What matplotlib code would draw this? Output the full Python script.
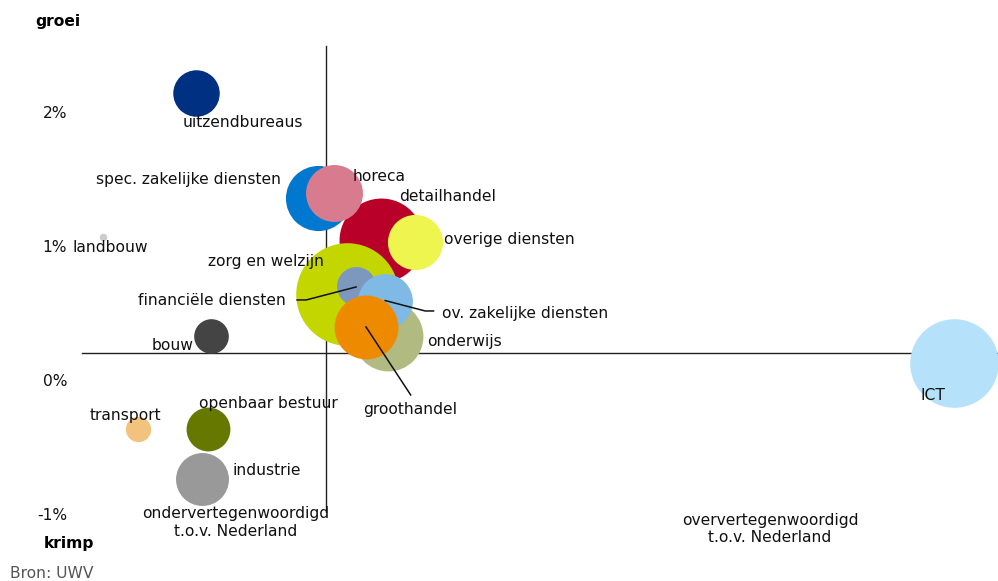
import matplotlib.pyplot as plt
import numpy as np

# sectors in drawing order (later ones on top)
SECTORS = [
    "ICT", "landbouw", "uitzendbureaus", "bouw", "transport", "openbaar bestuur",
    "industrie", "detailhandel", "overige diensten", "spec. zakelijke diensten",
    "horeca", "zorg en welzijn", "onderwijs", "financiële diensten",
    "ov. zakelijke diensten", "groothandel",
]
# location quotient vs Nederland (x) and employment growth in % (y)
LQ = [2.571, 0.443, 0.674, 0.713, 0.531, 0.705, 0.689, 1.138, 1.222, 0.981,
      1.020, 1.053, 1.155, 1.074, 1.148, 1.100]
GROEI = [0.136, 1.081, 2.150, 0.341, -0.351, -0.354, -0.725, 1.056, 1.043, 1.366,
         1.410, 0.655, 0.343, 0.713, 0.604, 0.407]
# bubble size (employment, relative)
BANEN = [196, 1.4, 54, 30, 16, 48, 70, 176, 76, 106, 81, 263, 122, 38, 75, 102]
COLORS = ["#b5e1fa", "#cccccc", "#003082", "#444444", "#f2c27f", "#667800",
          "#999999", "#b80028", "#eef54f", "#0078cf", "#d97b8e", "#c3d600",
          "#b1ba80", "#7d98bf", "#7fbae6", "#ee8a00"]

NL_GROEI = 0.21
NL_LQ = 1.0
Y_TICKS = [2, 1, 0, -1]

W, H = 998, 581
XLIM = (1 - 326 / 400, 1 + 672 / 400)
YLIM = ((381.5 - H) / 134, 381.5 / 134)
PX_X = (XLIM[1] - XLIM[0]) / W
PX_Y = (YLIM[1] - YLIM[0]) / H
FS = 11.2

# label offsets from bubble centre in pixels (dx right, dy down), alignment
LABELS = {
    "uitzendbureaus": (-13, 29.4, "left"),
    "spec. zakelijke diensten": (-37.5, -18.5, "right"),
    "horeca": (19, -16.5, "left"),
    "detailhandel": (18.3, -43.3, "left"),
    "overige diensten": (29.2, -2.4, "left"),
    "zorg en welzijn": (-22.7, -32, "right"),
    "financiële diensten": (-69.5, 15, "right"),
    "ov. zakelijke diensten": (56.7, 12.7, "left"),
    "onderwijs": (39, 6.2, "left"),
    "groothandel": (44, 82.3, "center"),
    "bouw": (-18, 9.2, "right"),
    "landbouw": (-30.6, 11, "left"),
    "ICT": (-33.6, 32.4, "left"),
    "transport": (-49.2, -13.5, "left"),
    "openbaar bestuur": (-9, -25, "left"),
    "industrie": (30.6, -8, "left"),
}
LEADERS = {
    "financiële diensten": [(-58.5, 14), (-49.5, 14), (0.5, 1)],
    "ov. zakelijke diensten": [(0, 0), (40, 10.4), (48.3, 10.4)],
    "groothandel": [(0, 0), (44.7, 68)],
}


def off(x, y, dx, dy):
    return x + dx * PX_X, y - dy * PX_Y


fig = plt.figure(figsize=(W / 100, H / 100), dpi=100)
ax = fig.add_axes([0, 0, 1, 1])
ax.set_xlim(*XLIM)
ax.set_ylim(*YLIM)
ax.axis("off")

ax.axhline(NL_GROEI, xmin=82 / W, xmax=1, color="#222222", lw=1.0, zorder=1)
ax.axvline(NL_LQ, ymin=1 - 512 / H, ymax=1 - 46 / H, color="#222222", lw=1.0, zorder=1)

sizes = np.array(BANEN) * 20.74
for i, name in enumerate(SECTORS):
    ax.scatter(LQ[i], GROEI[i], s=sizes[i], color=COLORS[i], linewidths=0, zorder=2 + i)

for i, name in enumerate(SECTORS):
    dx, dy, ha = LABELS[name]
    tx, ty = off(LQ[i], GROEI[i], dx, dy)
    ax.text(tx, ty, name, ha=ha, va="center", fontsize=FS, color="#111111", zorder=40)
    if name in LEADERS:
        pts = [off(LQ[i], GROEI[i], a, b) for a, b in LEADERS[name]]
        xs, ys = zip(*pts)
        ax.plot(xs, ys, color="#111111", lw=1.1, zorder=30)

for t in Y_TICKS:
    ax.text(XLIM[0] + 67 * PX_X, t, f"{t}%", ha="right", va="center", fontsize=FS, color="#111111")

ax.text(35 / W, 1 - 21.5 / H, "groei", transform=ax.transAxes, fontsize=FS,
        fontweight="bold", ha="left", va="center")
ax.text(44 / W, 1 - 543.5 / H, "krimp", transform=ax.transAxes, fontsize=FS,
        fontweight="bold", ha="left", va="center")
ax.text(10 / W, 1 - 573 / H, "Bron: UWV", transform=ax.transAxes, fontsize=FS,
        color="#555555", ha="left", va="center")
ax.text(236 / W, 1 - 522.5 / H, "ondervertegenwoordigd\nt.o.v. Nederland",
        transform=ax.transAxes, fontsize=FS, ha="center", va="center", color="#111111")
ax.text(770 / W, 1 - 529 / H, "oververtegenwoordigd\nt.o.v. Nederland",
        transform=ax.transAxes, fontsize=FS, ha="center", va="center", color="#111111")

fig.savefig("out.png", dpi=100)
